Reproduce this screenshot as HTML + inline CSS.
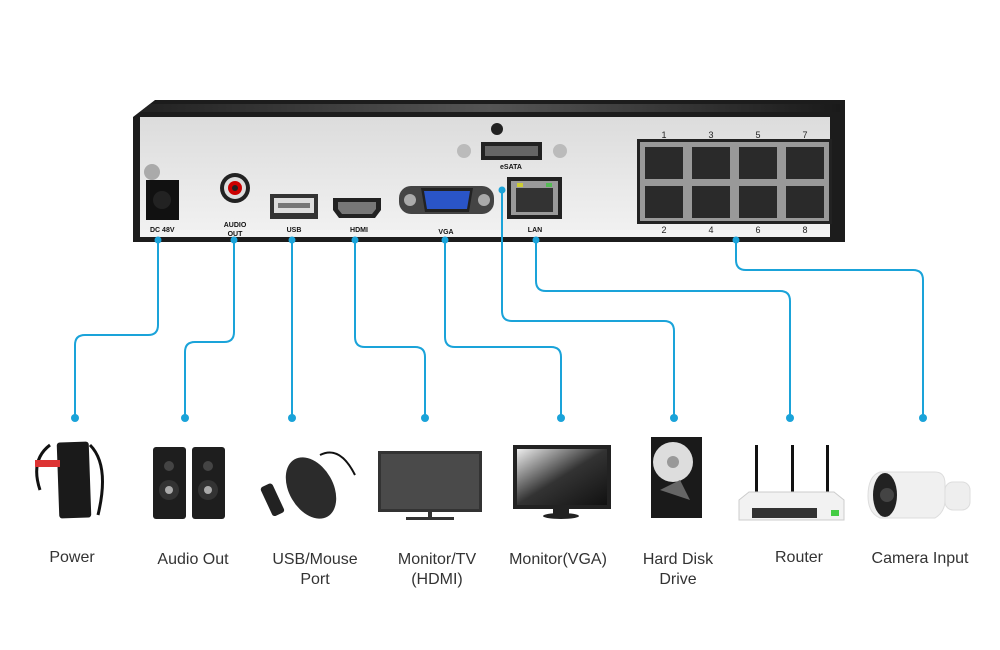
<!DOCTYPE html>
<html><head><meta charset="utf-8"><style>
html,body{margin:0;padding:0;background:#fff}
svg{display:block}
text{font-family:"Liberation Sans",sans-serif}
</style></head><body>
<svg width="1000" height="650" viewBox="0 0 1000 650" xmlns="http://www.w3.org/2000/svg">
<defs>
<linearGradient id="lid" x1="0" y1="0" x2="1" y2="0"><stop offset="0" stop-color="#222"/><stop offset="0.5" stop-color="#555"/><stop offset="1" stop-color="#1a1a1a"/></linearGradient>
<linearGradient id="panel" x1="0" y1="0" x2="0" y2="1"><stop offset="0" stop-color="#dcdcdc"/><stop offset="1" stop-color="#f2f2f2"/></linearGradient>
<linearGradient id="scr" x1="0" y1="0" x2="1" y2="1"><stop offset="0" stop-color="#eee"/><stop offset="0.5" stop-color="#333"/><stop offset="1" stop-color="#111"/></linearGradient>
</defs>
<!-- NVR -->
<polygon points="133,117 155,100 845,100 845,242 133,242" fill="#1c1c1c"/>
<polygon points="150,104 840,104 840,112 140,112" fill="url(#lid)"/>
<rect x="140" y="117" width="690" height="120" fill="url(#panel)"/>
<!-- power -->
<circle cx="152" cy="172" r="8" fill="#aaa"/>
<rect x="146" y="180" width="33" height="40" fill="#111"/>
<circle cx="162" cy="200" r="9" fill="#222"/>
<text x="150" y="232" font-size="7" font-weight="bold" fill="#111">DC 48V</text>
<!-- audio -->
<circle cx="235" cy="188" r="15" fill="#222"/><circle cx="235" cy="188" r="11" fill="#ddd"/><circle cx="235" cy="188" r="7" fill="#c00"/><circle cx="235" cy="188" r="3" fill="#222"/>
<text x="235" y="227" font-size="7" font-weight="bold" fill="#111" text-anchor="middle">AUDIO</text>
<text x="235" y="236" font-size="7" font-weight="bold" fill="#111" text-anchor="middle">OUT</text>
<!-- usb -->
<rect x="270" y="194" width="48" height="25" fill="#333"/><rect x="274" y="198" width="40" height="15" fill="#ddd"/><rect x="278" y="203" width="32" height="5" fill="#777"/>
<text x="294" y="232" font-size="7" font-weight="bold" fill="#111" text-anchor="middle">USB</text>
<!-- hdmi -->
<path d="M333,198 h48 v12 l-6,8 h-36 l-6,-8z" fill="#222"/><path d="M338,202 h38 v7 l-4,5 h-30 l-4,-5z" fill="#777"/>
<text x="359" y="232" font-size="7" font-weight="bold" fill="#111" text-anchor="middle">HDMI</text>
<!-- vga -->
<rect x="399" y="186" width="95" height="28" rx="12" fill="#444"/><circle cx="410" cy="200" r="6" fill="#aaa"/><circle cx="484" cy="200" r="6" fill="#aaa"/>
<path d="M421,188 h52 l-4,24 h-44z" fill="#222"/><path d="M424,191 h46 l-3,18 h-40z" fill="#2a55c8"/>
<text x="446" y="234" font-size="7" font-weight="bold" fill="#111" text-anchor="middle">VGA</text>
<!-- esata -->
<circle cx="497" cy="129" r="6" fill="#222"/>
<circle cx="464" cy="151" r="7" fill="#bbb"/><circle cx="560" cy="151" r="7" fill="#bbb"/>
<rect x="481" y="142" width="61" height="18" fill="#222"/><rect x="485" y="146" width="53" height="10" fill="#666"/>
<text x="511" y="169" font-size="7" font-weight="bold" fill="#111" text-anchor="middle">eSATA</text>
<!-- lan -->
<rect x="507" y="177" width="55" height="42" fill="#222"/><rect x="511" y="181" width="47" height="34" fill="#9a9a9a"/><rect x="516" y="188" width="37" height="24" fill="#333"/>
<rect x="517" y="183" width="6" height="4" fill="#cc3"/><rect x="546" y="183" width="6" height="4" fill="#5b5"/>
<text x="535" y="232" font-size="7" font-weight="bold" fill="#111" text-anchor="middle">LAN</text>
<!-- poe ports -->
<rect x="637" y="139" width="195" height="85" fill="#222"/><rect x="640" y="142" width="189" height="79" fill="#999"/>
<g fill="#2a2a2a">
<rect x="645" y="147" width="38" height="32"/><rect x="692" y="147" width="38" height="32"/><rect x="739" y="147" width="38" height="32"/><rect x="786" y="147" width="38" height="32"/>
<rect x="645" y="186" width="38" height="32"/><rect x="692" y="186" width="38" height="32"/><rect x="739" y="186" width="38" height="32"/><rect x="786" y="186" width="38" height="32"/>
</g>
<g font-size="9" fill="#222" text-anchor="middle">
<text x="664" y="138">1</text><text x="711" y="138">3</text><text x="758" y="138">5</text><text x="805" y="138">7</text>
<text x="664" y="233">2</text><text x="711" y="233">4</text><text x="758" y="233">6</text><text x="805" y="233">8</text>
</g>
<!-- connectors -->
<g fill="none" stroke="#1aa3d9" stroke-width="2">
<path d="M158,240 V325 q0,10 -10,10 H85 q-10,0 -10,10 V418"/>
<path d="M234,240 V332 q0,10 -10,10 H195 q-10,0 -10,10 V418"/>
<path d="M292,240 V418"/>
<path d="M355,240 V337 q0,10 10,10 H415 q10,0 10,10 V418"/>
<path d="M445,240 V337 q0,10 10,10 H551 q10,0 10,10 V418"/>
<path d="M502,190 V311 q0,10 10,10 H664 q10,0 10,10 V418"/>
<path d="M536,240 V281 q0,10 10,10 H780 q10,0 10,10 V418"/>
<path d="M736,240 V260 q0,10 10,10 H913 q10,0 10,10 V418"/>
</g>
<g fill="#1aa3d9">
<circle cx="158" cy="240" r="3.5"/><circle cx="234" cy="240" r="3.5"/><circle cx="292" cy="240" r="3.5"/><circle cx="355" cy="240" r="3.5"/><circle cx="445" cy="240" r="3.5"/><circle cx="502" cy="190" r="3.5"/><circle cx="536" cy="240" r="3.5"/><circle cx="736" cy="240" r="3.5"/>
<circle cx="75" cy="418" r="4"/><circle cx="185" cy="418" r="4"/><circle cx="292" cy="418" r="4"/><circle cx="425" cy="418" r="4"/><circle cx="561" cy="418" r="4"/><circle cx="674" cy="418" r="4"/><circle cx="790" cy="418" r="4"/><circle cx="923" cy="418" r="4"/>
</g>
<!-- devices -->
<!-- power adapter -->
<path d="M50,445 q-20,15 -10,45 M90,445 q20,20 8,70" stroke="#111" stroke-width="3" fill="none"/>
<rect x="58" y="442" width="32" height="76" rx="3" fill="#1a1a1a" transform="rotate(-2 74 480)"/>
<rect x="35" y="460" width="25" height="7" fill="#d33"/>
<!-- speakers -->
<rect x="153" y="447" width="33" height="72" rx="3" fill="#1e1e1e"/><rect x="192" y="447" width="33" height="72" rx="3" fill="#1e1e1e"/>
<circle cx="169" cy="466" r="5" fill="#444"/><circle cx="169" cy="490" r="10" fill="#333"/><circle cx="169" cy="490" r="4" fill="#aaa"/>
<circle cx="208" cy="466" r="5" fill="#444"/><circle cx="208" cy="490" r="10" fill="#333"/><circle cx="208" cy="490" r="4" fill="#aaa"/>
<!-- usb/mouse -->
<path d="M320,455 q20,-10 35,20" stroke="#111" stroke-width="2" fill="none"/>
<ellipse cx="311" cy="488" rx="22" ry="33" fill="#2b2b2b" transform="rotate(-30 311 488)"/>
<rect x="266" y="484" width="13" height="32" rx="3" fill="#222" transform="rotate(-25 272 500)"/>
<!-- monitor hdmi -->
<rect x="378" y="451" width="104" height="61" fill="#333"/><rect x="381" y="454" width="98" height="55" fill="#4a4a4a"/>
<rect x="428" y="512" width="4" height="5" fill="#333"/><rect x="406" y="517" width="48" height="3" fill="#333"/>
<!-- monitor vga -->
<rect x="513" y="445" width="98" height="64" fill="#222"/><rect x="517" y="449" width="90" height="56" fill="url(#scr)"/>
<rect x="553" y="509" width="16" height="5" fill="#222"/><ellipse cx="561" cy="516" rx="18" ry="3" fill="#222"/>
<!-- hdd -->
<rect x="651" y="437" width="51" height="81" fill="#1a1a1a"/><circle cx="673" cy="462" r="20" fill="#ddd"/><circle cx="673" cy="462" r="6" fill="#999"/><path d="M660,490 l20,-10 10,20z" fill="#666"/>
<!-- router -->
<rect x="755" y="445" width="3" height="48" fill="#111"/><rect x="791" y="445" width="3" height="48" fill="#111"/><rect x="826" y="445" width="3" height="48" fill="#111"/>
<path d="M739,500 l10,-8 h85 l10,8 v20 h-105z" fill="#f2f2f2" stroke="#ccc"/>
<rect x="752" y="508" width="65" height="10" fill="#333"/><rect x="831" y="510" width="8" height="6" fill="#4c4"/>
<!-- camera -->
<path d="M880,472 h55 q10,0 10,12 v16 q0,12 -10,18 h-55 q-12,-5 -12,-22 q0,-20 12,-24z" fill="#f0f0f0" stroke="#ddd"/>
<ellipse cx="885" cy="495" rx="12" ry="22" fill="#222"/><circle cx="887" cy="495" r="7" fill="#444"/>
<rect x="945" y="482" width="25" height="28" rx="8" fill="#eee" stroke="#ddd"/>
<!-- labels -->
<g font-size="16" fill="#333" text-anchor="middle">
<text x="72" y="562">Power</text>
<text x="193" y="564">Audio Out</text>
<text x="315" y="564">USB/Mouse</text><text x="315" y="584">Port</text>
<text x="437" y="564">Monitor/TV</text><text x="437" y="584">(HDMI)</text>
<text x="558" y="564">Monitor(VGA)</text>
<text x="678" y="564">Hard Disk</text><text x="678" y="584">Drive</text>
<text x="799" y="562">Router</text>
<text x="920" y="563">Camera Input</text>
</g>
</svg>
</body></html>
